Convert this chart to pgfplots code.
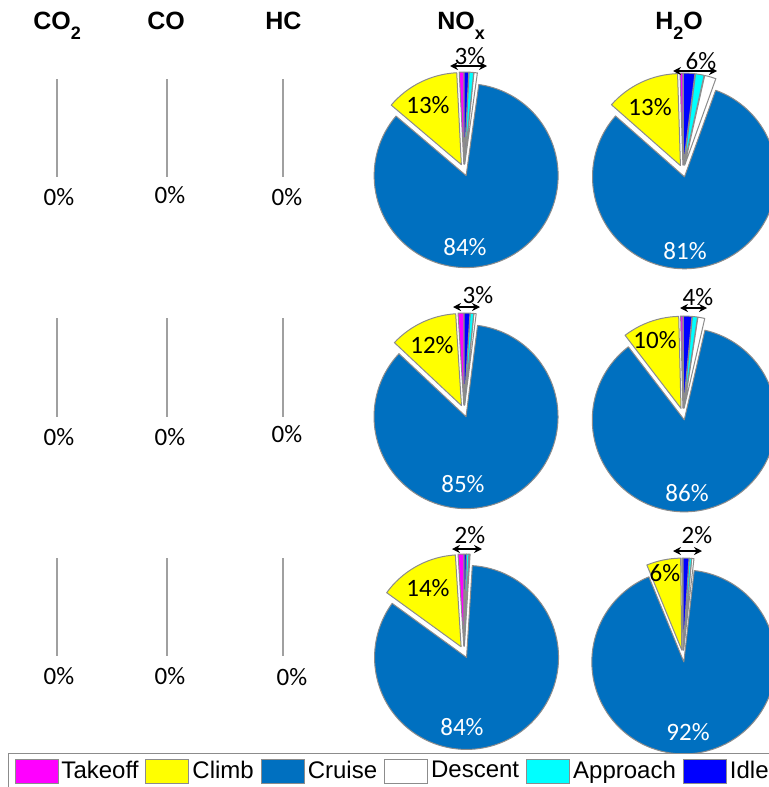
\documentclass[border=0pt]{standalone}
\usepackage{pgfplots}
\pgfplotsset{compat=1.18}
\usepackage{pgfplotstable}
\usetikzlibrary{arrows.meta}
\usepackage{fontspec}
\setmainfont{Carlito}
\newfontfamily\arial{Liberation Sans}

\definecolor{pTake}{RGB}{255,0,255}
\definecolor{pClimb}{RGB}{255,255,0}
\definecolor{pCruise}{RGB}{0,112,192}
\definecolor{pDesc}{RGB}{255,255,255}
\definecolor{pAppr}{RGB}{0,255,255}
\definecolor{pIdle}{RGB}{0,0,255}
\definecolor{edge}{RGB}{140,140,140}
\definecolor{zline}{RGB}{160,160,160}

% share of each flight phase (%)
\pgfplotstableread{
phase    noxA h2oA noxB h2oB noxC h2oC
Takeoff  0.8  0.5  1.0  0.4  1.0  0.2
Climb    13.0 13.0 12.0 10.0 14.0 6.0
Cruise   84.0 81.0 85.0 86.0 84.0 92.0
Descent  0.6  2.0  0.4  1.2  0.2  0.4
Approach 0.8  1.5  0.6  0.9  0.4  0.4
Idle     0.8  2.0  1.0  1.5  0.4  1.0
}\piedata

\newcommand\lab{\fontsize{12.5}{14}\selectfont}
\newcommand\ttl{\arial\bfseries\fontsize{12.5}{15}\selectfont}
\newcommand\sub[1]{\raisebox{-5.5pt}{\fontsize{9}{10}\selectfont #1}}
\newcommand\ls{\vphantom{Tpg}}

% #1 cx, #2 cy, #3 column
\newcommand\drawpie[3]{%
  \def\acc{90}%
  \pgfplotsforeachungrouped \i in {0,...,5}{%
    \pgfplotstablegetelem{\i}{#3}\of\piedata
    \pgfmathsetmacro\aS{\acc}%
    \pgfmathsetmacro\aE{\acc+3.6*\pgfplotsretval}%
    \pgfmathsetmacro\aM{(\aS+\aE)/2}%
    \edef\ex{\ifcase\i 6\or 8\or 0\else 6\fi}%
    \pgfmathsetmacro\ox{#1+\ex*cos(\aM)}%
    \pgfmathsetmacro\oy{#2-\ex*sin(\aM)}%
    \pgfmathtruncatemacro\ns{max(2,ceil((\aE-\aS)/3)+1)}%
    \edef\col{\ifcase\i pTake\or pClimb\or pCruise\or pDesc\or pAppr\else pIdle\fi}%
    \edef\tmp{\noexpand\addplot[fill=\col, draw=edge, line width=0.5pt, line join=round, domain=\aS:\aE, samples=\ns, forget plot] ({\ox+92*cos(x)},{\oy-92*sin(x)}) -- (axis cs:\ox,\oy) -- cycle;}%
    \tmp
    \xdef\acc{\aE}%
  }%
}

\tikzset{dbl/.style={{Stealth[length=4pt,width=4pt]}-{Stealth[length=4pt,width=4pt]}, line width=0.6pt}}

\begin{document}
\begin{tikzpicture}
\useasboundingbox (0,0) rectangle (384.5pt,393.5pt);
\clip (0,0) rectangle (384.5pt,393.5pt);
\begin{axis}[
  at={(0,0)}, anchor=south west,
  width=384.5pt, height=393.5pt, scale only axis,
  xmin=0, xmax=769, ymin=0, ymax=787, y dir=reverse,
  hide axis, clip=false,
  legend image code/.code={\draw[#1, draw=edge, line width=0.5pt] (0pt,-6pt) rectangle (21.5pt,6pt);},
  legend columns=6,
  legend style={at={(axis cs:8,753)}, anchor=north west, draw=edge, line width=0.5pt,
    inner xsep=3pt, inner ysep=2.5pt,
    font=\arial\fontsize{12}{14}\selectfont,
    nodes={inner sep=0pt},
    /tikz/every odd column/.append style={column sep=1.5pt},
    /tikz/every even column/.append style={column sep=3.5pt}},
]

% empty pies (0%)
\addplot[zline, line width=1pt, forget plot] coordinates {(57,79) (57,177)};
\addplot[zline, line width=1pt, forget plot] coordinates {(167,79) (167,177)};
\addplot[zline, line width=1pt, forget plot] coordinates {(283,79) (283,177)};
\addplot[zline, line width=1pt, forget plot] coordinates {(57,318) (57,417)};
\addplot[zline, line width=1pt, forget plot] coordinates {(167,318) (167,417)};
\addplot[zline, line width=1pt, forget plot] coordinates {(283,318) (283,417)};
\addplot[zline, line width=1pt, forget plot] coordinates {(57,558) (57,656)};
\addplot[zline, line width=1pt, forget plot] coordinates {(167,558) (167,656)};
\addplot[zline, line width=1pt, forget plot] coordinates {(283,558) (283,656)};

\drawpie{464}{170}{noxA}
\drawpie{683}{171}{h2oA}
\drawpie{464}{411}{noxB}
\drawpie{683}{414}{h2oB}
\drawpie{464}{652}{noxC}
\drawpie{683}{656}{h2oC}

% titles
\node[font=\ttl, anchor=base west, inner sep=0pt] at (axis cs:33,29) {CO\sub{2}};
\node[font=\ttl, anchor=base west, inner sep=0pt] at (axis cs:147,29) {CO};
\node[font=\ttl, anchor=base west, inner sep=0pt] at (axis cs:265,29) {HC};
\node[font=\ttl, anchor=base west, inner sep=0pt] at (axis cs:437,29) {NO\sub{x}};
\node[font=\ttl, anchor=base west, inner sep=0pt] at (axis cs:655,29) {H\sub{2}O};

% 0% labels
\node[font=\lab] at (axis cs:59,197) {0\%};
\node[font=\lab] at (axis cs:170,195) {0\%};
\node[font=\lab] at (axis cs:287,197) {0\%};
\node[font=\lab] at (axis cs:59,437) {0\%};
\node[font=\lab] at (axis cs:170,437) {0\%};
\node[font=\lab] at (axis cs:287,434) {0\%};
\node[font=\lab] at (axis cs:59,676) {0\%};
\node[font=\lab] at (axis cs:170,676) {0\%};
\node[font=\lab] at (axis cs:292,677) {0\%};

% pie labels
\node[font=\lab] at (axis cs:428,105) {13\%};
\node[font=\lab] at (axis cs:650,107) {13\%};
\node[font=\lab] at (axis cs:432,345) {12\%};
\node[font=\lab] at (axis cs:655,340) {10\%};
\node[font=\lab] at (axis cs:428,588) {14\%};
\node[font=\lab] at (axis cs:665,573) {6\%};

\node[font=\lab, text=white] at (axis cs:465,247) {84\%};
\node[font=\lab, text=white] at (axis cs:685,251) {81\%};
\node[font=\lab, text=white] at (axis cs:463,484) {85\%};
\node[font=\lab, text=white] at (axis cs:687,493) {86\%};
\node[font=\lab, text=white] at (axis cs:462,727) {84\%};
\node[font=\lab, text=white] at (axis cs:688,732) {92\%};

% small-slice callouts
\draw[dbl] (axis cs:450,66) -- (axis cs:487,66);
\node[font=\lab] at (axis cs:470,56) {3\%};
\draw[dbl] (axis cs:673,71) -- (axis cs:717,71);
\node[font=\lab] at (axis cs:701,61) {6\%};
\draw[dbl] (axis cs:453,307) -- (axis cs:480,307);
\node[font=\lab] at (axis cs:478,295) {3\%};
\draw[dbl] (axis cs:680,308) -- (axis cs:707,308);
\node[font=\lab] at (axis cs:698,297) {4\%};
\draw[dbl] (axis cs:452,549) -- (axis cs:482,549);
\node[font=\lab] at (axis cs:470,535) {2\%};
\draw[dbl] (axis cs:673,551) -- (axis cs:702,551);
\node[font=\lab] at (axis cs:697,535) {2\%};

\addlegendimage{fill=pTake}\addlegendentry{\ls Takeoff}
\addlegendimage{fill=pClimb}\addlegendentry{\ls Climb}
\addlegendimage{fill=pCruise}\addlegendentry{\ls Cruise}
\addlegendimage{fill=pDesc}\addlegendentry{\ls Descent}
\addlegendimage{fill=pAppr}\addlegendentry{\ls Approach}
\addlegendimage{fill=pIdle}\addlegendentry{\ls Idle}
\end{axis}
\end{tikzpicture}
\end{document}
